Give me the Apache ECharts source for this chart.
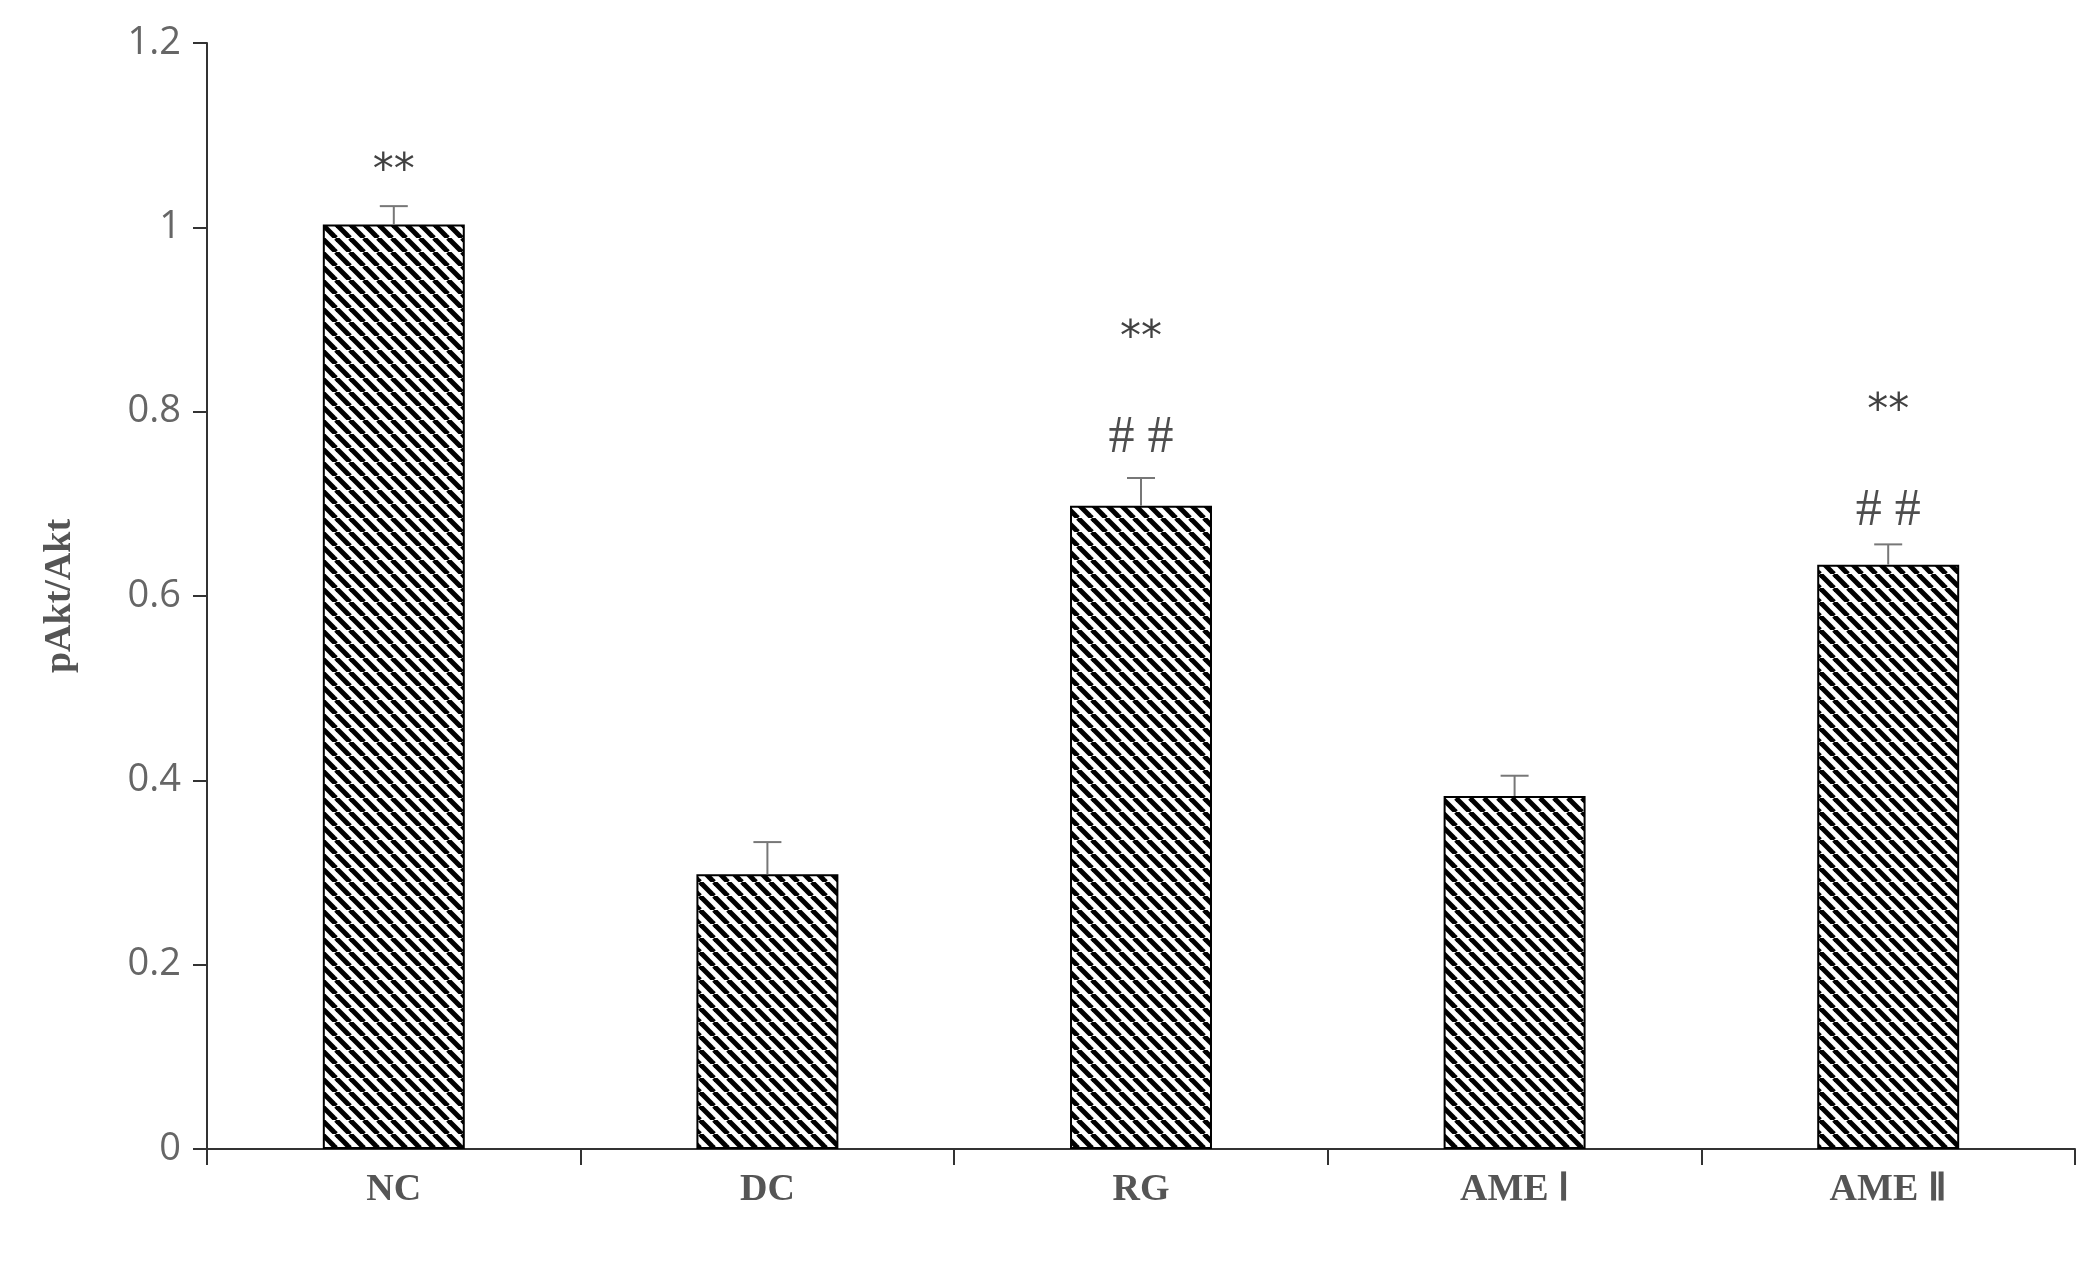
<!DOCTYPE html><html><head><meta charset="utf-8"><script src="https://cdn.jsdelivr.net/npm/echarts@6/dist/echarts.min.js"></script>
<style>html,body{margin:0;background:#fff}#c{width:2099px;height:1276px}</style></head><body><div id="c"></div><script>
const categories=['NC','DC','RG','AME Ⅰ','AME Ⅱ'];
const values=[1.003,0.298,0.698,0.383,0.634];
const errors=[0.02,0.035,0.03,0.022,0.022];
const starLabels=['**','','**','','**'];
const starPos=[1.06,0,0.879,0,0.80];
const hashLabels=['','','# #','','# #'];
const hashPos=[0,0,0.771,0,0.692];

const cv=document.createElement('canvas');cv.width=14;cv.height=14;
const g=cv.getContext('2d');g.fillStyle='#fff';g.fillRect(0,0,14,14);
g.strokeStyle='#000';g.lineWidth=5;
for(let k=-14;k<=28;k+=14){g.beginPath();g.moveTo(k,0);g.lineTo(k+14,14);g.stroke();}

const ch=echarts.init(document.getElementById('c'));
ch.setOption({
animation:false,
grid:{left:207,right:24,top:43,bottom:127},
xAxis:{type:'category',data:categories,axisLine:{lineStyle:{color:'#333',width:2}},
 axisTick:{show:true,length:16,lineStyle:{color:'#333',width:2}},
 axisLabel:{fontFamily:'Liberation Serif',fontWeight:'bold',fontSize:38,color:'#555',margin:22}},
yAxis:{type:'value',min:0,max:1.2,interval:0.2,splitLine:{show:false},
 axisLine:{show:true,lineStyle:{color:'#333',width:2}},axisTick:{show:true,length:14,lineStyle:{color:'#333',width:2}},
 axisLabel:{fontFamily:'Open Sans',fontSize:38,color:'#666',margin:26,formatter:v=>String(+v.toFixed(1))},
 name:'pAkt/Akt',nameLocation:'middle',nameGap:128,nameTextStyle:{fontFamily:'Liberation Serif',fontWeight:'bold',fontSize:38,color:'#555'}},
series:[
{type:'bar',data:values,barWidth:'38%',itemStyle:{color:{image:cv,repeat:'repeat'},borderColor:'#000',borderWidth:2}},
{type:'custom',data:values.map((v,i)=>[i,v,errors[i]]),z:3,renderItem:(p,api)=>{
 const top=api.coord([api.value(0),api.value(1)+api.value(2)]);const base=api.coord([api.value(0),api.value(1)]);
 return {type:'group',children:[
  {type:'line',shape:{x1:base[0],y1:base[1],x2:top[0],y2:top[1]},style:{stroke:'#777',lineWidth:2}},
  {type:'line',shape:{x1:top[0]-14,y1:top[1],x2:top[0]+14,y2:top[1]},style:{stroke:'#777',lineWidth:2}}]};}},
{type:'scatter',data:starPos.map((v,i)=>[i,v]),symbolSize:0,label:{show:true,position:'inside',formatter:p=>starLabels[p.dataIndex],fontFamily:'DejaVu Sans',fontSize:42,color:'#111'}},
{type:'scatter',data:hashPos.map((v,i)=>[i,v]),symbolSize:0,label:{show:true,position:'inside',formatter:p=>hashLabels[p.dataIndex],fontFamily:'Liberation Serif',fontSize:52,color:'#222'}}
]});
</script></body></html>
